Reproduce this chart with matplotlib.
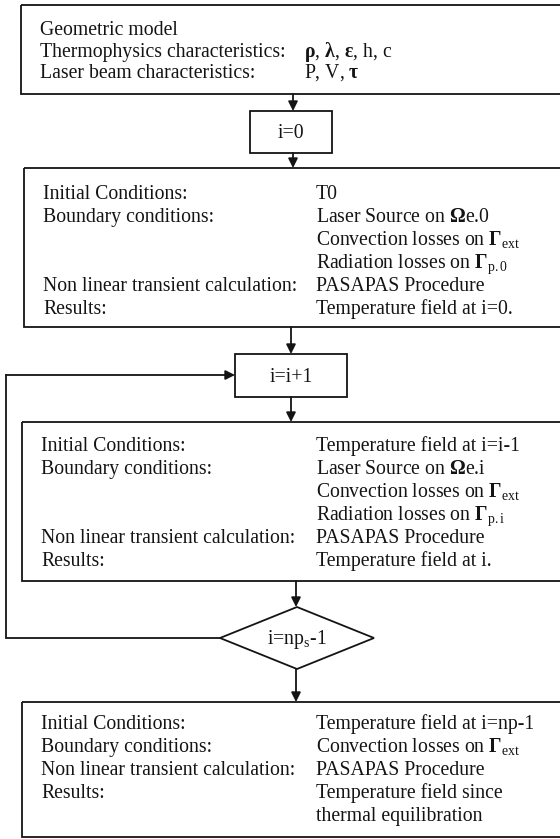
import matplotlib
matplotlib.use("Agg")
import matplotlib.pyplot as plt
from matplotlib.patches import Rectangle, Polygon

plt.rcParams['mathtext.fontset'] = 'custom'
plt.rcParams['mathtext.rm'] = 'Liberation Serif'
plt.rcParams['mathtext.bf'] = 'Liberation Serif:bold'
plt.rcParams['mathtext.it'] = 'Liberation Serif:italic'

W, H = 560, 839
FS = 14.2
INK = '#141414'
FONT = 'Liberation Serif'

# ---- content ----
box1_left = ["Geometric model", "Thermophysics characteristics:", "Laser beam characteristics:"]
box1_right = ["", r"$\mathbf{\rho}$, $\mathbf{\lambda}$, $\mathbf{\varepsilon}$, h, c", r"P, V, $\mathbf{\tau}$"]

box2_left = ["Initial Conditions:", "Boundary conditions:", "", "", "Non linear transient calculation:", "Results:"]
box2_right = ["T0", r"Laser Source on $\mathbf{\Omega}$e.0",
              r"Convection losses on $\mathbf{\Gamma}_{\mathrm{ext}}$",
              r"Radiation losses on $\mathbf{\Gamma}_{\mathrm{p{.}0}}$",
              "PASAPAS Procedure", "Temperature field at i=0."]

box3_left = ["Initial Conditions:", "Boundary conditions:", "", "", "Non linear transient calculation:", "Results:"]
box3_right = ["Temperature field at i=i-1", r"Laser Source on $\mathbf{\Omega}$e.i",
              r"Convection losses on $\mathbf{\Gamma}_{\mathrm{ext}}$",
              r"Radiation losses on $\mathbf{\Gamma}_{\mathrm{p{.}i}}$",
              "PASAPAS Procedure", "Temperature field at i."]

box4_left = ["Initial Conditions:", "Boundary conditions:", "Non linear transient calculation:", "Results:", ""]
box4_right = ["Temperature field at i=np-1", r"Convection losses on $\mathbf{\Gamma}_{\mathrm{ext}}$",
              "PASAPAS Procedure", "Temperature field since", "thermal equilibration"]

step_labels = ["i=0", "i=i+1"]
decision_label = r"i=n$\mathrm{p}_{\mathrm{s}}$-1"

# ---- layout (pixels, y downward) ----
fig = plt.figure(figsize=(W / 100, H / 100), dpi=100)
ax = fig.add_axes([0, 0, 1, 1])
ax.set_xlim(0, W)
ax.set_ylim(H, 0)
ax.axis('off')

LW = 1.3


def big_box(x0, y0, y1, left, right, xr, ytop, dy, xl=None):
    ax.add_patch(Rectangle((x0, y0), W + 10 - x0, y1 - y0, fill=False,
                           ec=INK, lw=LW, clip_on=False))
    if xl is None:
        xl = x0 + 19
    for i, (l, r) in enumerate(zip(left, right)):
        yb = ytop + i * dy + 6
        if l:
            ax.text(xl, yb, l, fontsize=FS, family=FONT, color=INK, va='baseline', ha='left')
        if r:
            ax.text(xr, yb, r, fontsize=FS, family=FONT, color=INK, va='baseline', ha='left')


def small_box(x0, x1, y0, y1, label):
    ax.add_patch(Rectangle((x0, y0), x1 - x0, y1 - y0, fill=False, ec=INK, lw=LW))
    ax.text((x0 + x1) / 2, (y0 + y1) / 2 + 6, label, fontsize=FS, family=FONT,
            color=INK, va='baseline', ha='center')


def arrow(p0, p1):
    ax.annotate("", xy=p1, xytext=p0,
                arrowprops=dict(arrowstyle='-|>', mutation_scale=14, lw=LW,
                                color=INK, shrinkA=0, shrinkB=0))


big_box(21, 5, 94, box1_left, box1_right, 304, 29, 21.5)
arrow((293, 94), (293, 111))
small_box(250, 332, 111, 153, step_labels[0])
arrow((293, 153), (293, 168))
big_box(24, 168, 327, box2_left, box2_right, 316, 193, 23)
arrow((291, 327), (291, 354))
small_box(235, 347, 354, 397, step_labels[1])
arrow((291, 397), (291, 422))
big_box(22, 422, 581, box3_left, box3_right, 316, 445, 23)
arrow((296, 581), (296, 607))

# decision diamond
cx, cy, hw, hh = 297, 638, 77, 31
ax.add_patch(Polygon([(cx - hw, cy), (cx, cy - hh), (cx + hw, cy), (cx, cy + hh)],
                     closed=True, fill=False, ec=INK, lw=LW))
ax.text(cx, cy + 6, decision_label, fontsize=FS, family=FONT, color=INK,
        va='baseline', ha='center')

# loop back
ax.plot([cx - hw, 6, 6], [cy, cy, 375], color=INK, lw=LW, solid_joinstyle='miter')
arrow((6, 375), (235, 375))

arrow((296, 669), (296, 702))
big_box(22, 702, 837, box4_left, box4_right, 316, 723, 23)

fig.savefig("out.png", dpi=100)
